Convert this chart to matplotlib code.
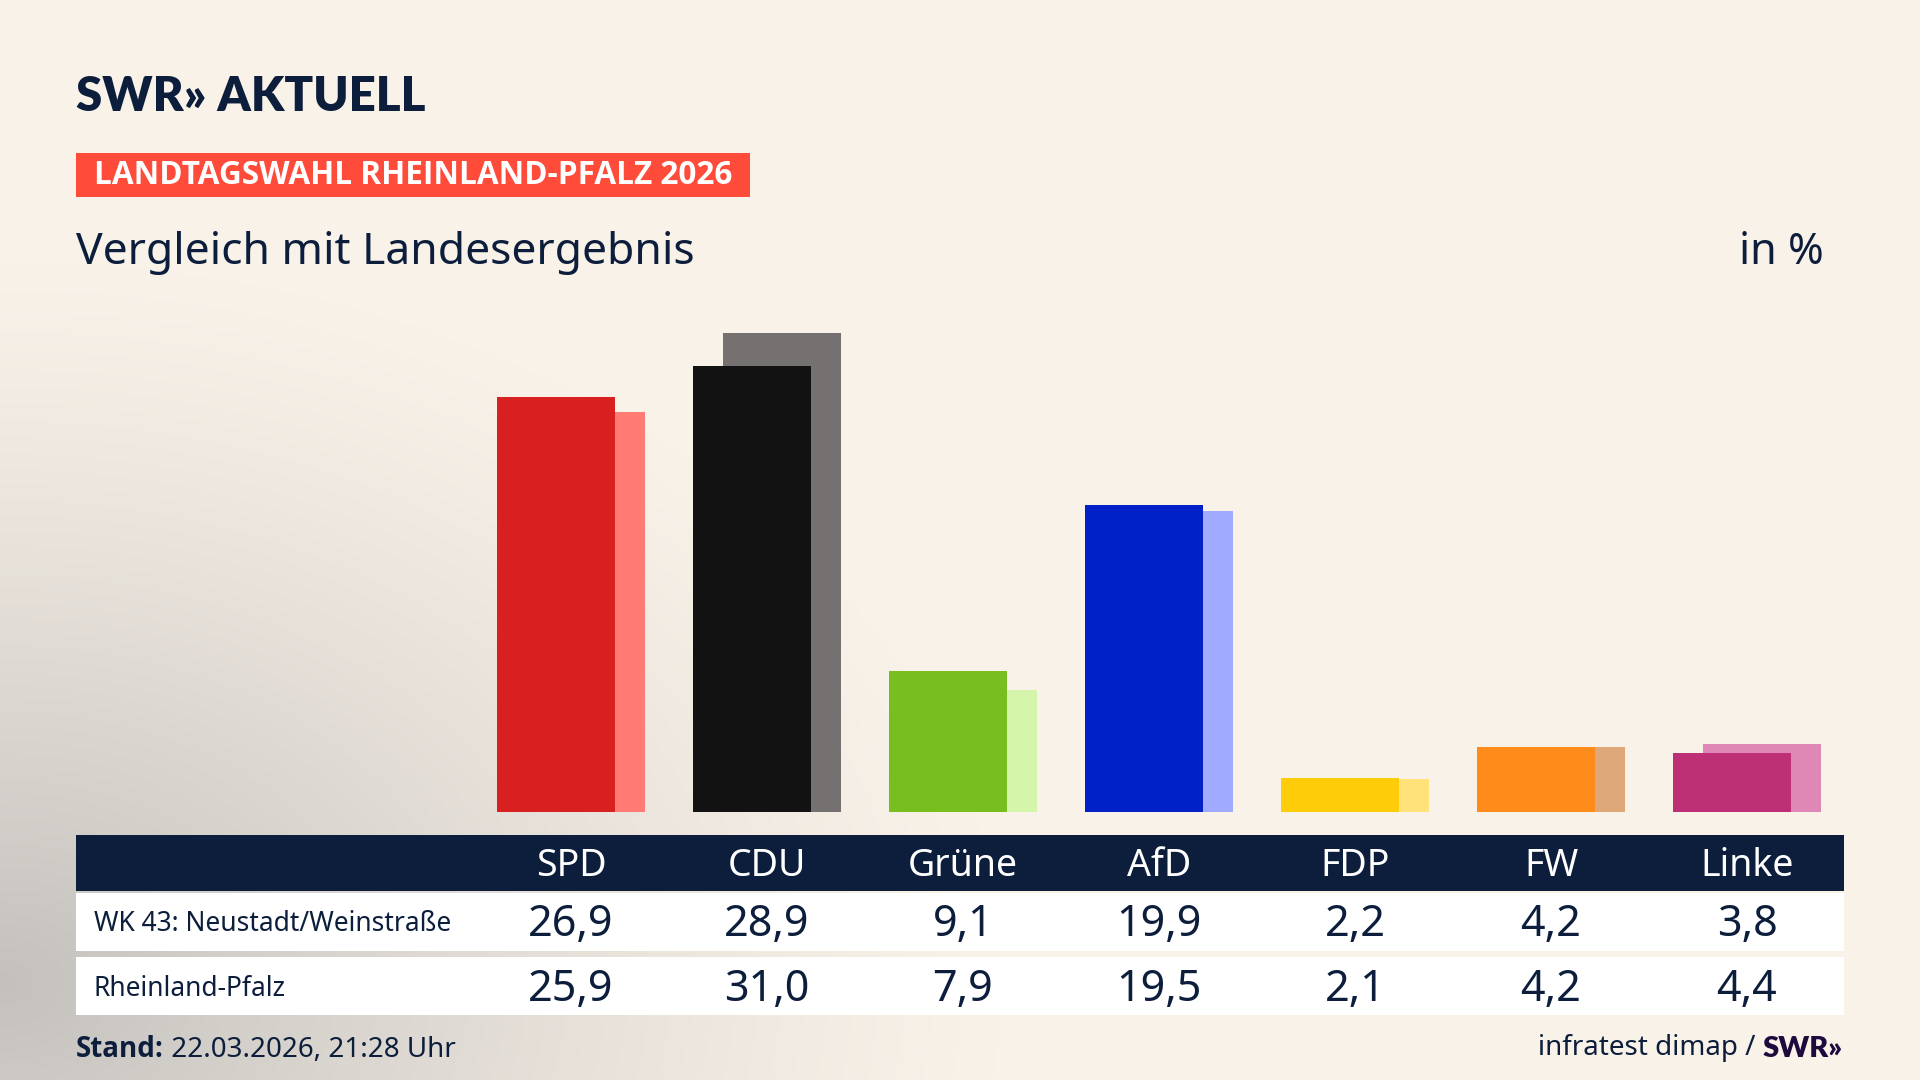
import numpy as np
import matplotlib.pyplot as plt
from matplotlib.patches import Rectangle
from matplotlib.transforms import blended_transform_factory

plt.rcParams['font.family'] = ['Noto Sans', 'DejaVu Sans']
BOLD_A = ['Lato', 'DejaVu Sans']
BOLD_B = ['Open Sans', 'DejaVu Sans']

# data
parties = ['SPD', 'CDU', 'Grüne', 'AfD', 'FDP', 'FW', 'Linke']
wahlkreis = [26.9, 28.9, 9.1, 19.9, 2.2, 4.2, 3.8]
land = [25.9, 31.0, 7.9, 19.5, 2.1, 4.2, 4.4]
row_labels = ['WK 43: Neustadt/Weinstraße', 'Rheinland-Pfalz']
colors_main = ['#D7201F', '#121212', '#78BE1E', '#0020C8', '#FFCC0A', '#FF8C1A', '#BE3075']
colors_land = ['#FF7B73', '#747170', '#D5F5AA', '#A0AAFF', '#FFE27A', '#DEA878', '#DF88B5']

navy = '#0C1E3C'
W, H = 1920, 1080

fig = plt.figure(figsize=(19.2, 10.8), dpi=100)

# background gradient (cream, greyer towards bottom left)
bg = fig.add_axes([0, 0, 1, 1])
yy, xx = np.mgrid[0:H:4, 0:W:4]
d = np.sqrt((xx / 1000.0) ** 2 + ((yy - 980) / 720.0) ** 2)
w = np.clip(1 - d, 0, 1) ** 1.2
cream = np.array([249, 242, 233]) / 255
grey = np.array([196, 193, 189]) / 255
img = cream[None, None, :] * (1 - w[..., None]) + grey[None, None, :] * w[..., None]
bg.imshow(img, extent=[0, W, H, 0], aspect='auto')
bg.set_xlim(0, W)
bg.set_ylim(H, 0)
bg.axis('off')

# header
bg.text(76, 111, 'SWR» AKTUELL', fontsize=34, fontweight='heavy', family=BOLD_A, color=navy,
        va='baseline', ha='left')
bg.add_patch(Rectangle((76, 153), 674, 44, color='#FF4B3A', lw=0))
bg.text(94, 176, 'LANDTAGSWAHL RHEINLAND-PFALZ 2026', fontsize=22.7, fontweight='bold',
        family=BOLD_B, color='white', va='center', ha='left')
bg.text(76, 253, 'Vergleich mit Landesergebnis', fontsize=32, color=navy, va='center', ha='left')
bg.text(1824, 253, 'in %', fontsize=31, color=navy, va='center', ha='right')

# bars
baseline = 811.7
px_per_unit = 15.43
ymax = 33
ax = fig.add_axes([76 / W, (H - baseline) / H, (1844 - 76) / W, ymax * px_per_unit / H])
ax.set_xlim((76 - 571) / 196, (1844 - 571) / 196)
ax.set_ylim(0, ymax)
ax.axis('off')

x = np.arange(len(parties))
off = 15 / 196
bw = 118 / 196
ax.bar(x + off, land, width=bw, color=colors_land, zorder=1)
ax.bar(x - off, wahlkreis, width=bw, color=colors_main, zorder=2)

# table
bg.add_patch(Rectangle((76, 835), 1768, 56, color=navy, lw=0))
bg.add_patch(Rectangle((76, 893), 1768, 58, color='white', lw=0))
bg.add_patch(Rectangle((76, 957), 1768, 58, color='white', lw=0))

tr = blended_transform_factory(ax.transData, bg.transData)
row_y = [925, 990]
for i, p in enumerate(parties):
    ax.text(i, 866, p, transform=tr, fontsize=27, color='white', ha='center', va='center')
    for r, vals in enumerate([wahlkreis, land]):
        ax.text(i, row_y[r], f'{vals[i]:.1f}'.replace('.', ','), transform=tr,
                fontsize=31, color=navy, ha='center', va='center')
for r, lab in enumerate(row_labels):
    bg.text(94, row_y[r] - 1, lab, fontsize=19, color=navy, ha='left', va='center')

# footer
t1 = bg.text(76, 1057, 'Stand:', fontsize=20, fontweight='bold', family=BOLD_B, color=navy,
             va='baseline', ha='left')
bg.annotate(' 22.03.2026, 21:28 Uhr', xy=(1, 0), xycoords=t1, fontsize=20, color=navy,
            va='bottom', ha='left')
t2 = bg.text(1843, 1057, 'SWR»', fontsize=21, fontweight='heavy', family=BOLD_A, color='#1E0A3C',
             va='baseline', ha='right')
bg.annotate('infratest dimap / ', xy=(0, 0), xycoords=t2, fontsize=20, color=navy,
            va='bottom', ha='right')

fig.savefig('out.png', dpi=100)
